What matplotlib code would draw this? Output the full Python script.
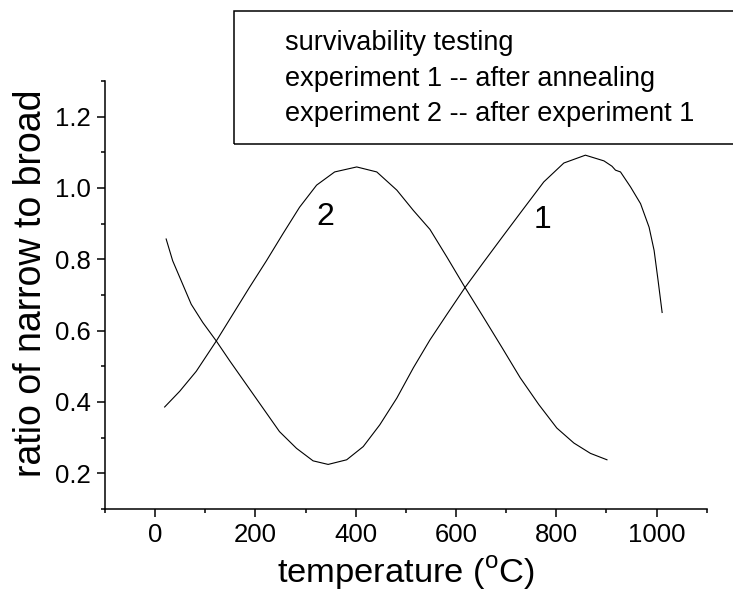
import numpy as np
import matplotlib
matplotlib.use("Agg")
import matplotlib.pyplot as plt
from matplotlib.patches import Rectangle
from matplotlib.ticker import MultipleLocator, FormatStrFormatter

plt.rcParams['font.family'] = ['Liberation Sans', 'DejaVu Sans']
plt.rcParams['mathtext.fontset'] = 'custom'
plt.rcParams['mathtext.rm'] = 'Liberation Sans'

# experiment 1 -- after annealing
t1 = [22, 35, 52, 72, 95, 122, 149, 182, 215, 248, 282, 315, 345, 382, 415,
      448, 482, 515, 548, 582, 618, 655, 692, 732, 775, 815, 858, 895, 911,
      918, 928, 948, 968, 985, 995, 1003, 1011]
r1 = [0.857, 0.796, 0.740, 0.674, 0.623, 0.571, 0.515, 0.449, 0.383, 0.317,
      0.270, 0.235, 0.225, 0.238, 0.275, 0.336, 0.411, 0.496, 0.574, 0.646,
      0.721, 0.792, 0.862, 0.937, 1.017, 1.070, 1.092, 1.076, 1.061, 1.050,
      1.045, 1.003, 0.956, 0.890, 0.825, 0.740, 0.651]

# experiment 2 -- after experiment 1
t2 = [19, 49, 82, 122, 155, 188, 222, 255, 288, 322, 358, 402, 442, 482,
      515, 548, 582, 618, 655, 692, 728, 765, 801, 835, 868, 901]
r2 = [0.386, 0.430, 0.486, 0.571, 0.646, 0.721, 0.796, 0.872, 0.946, 1.008,
      1.045, 1.059, 1.045, 0.994, 0.937, 0.884, 0.806, 0.721, 0.637, 0.552,
      0.468, 0.393, 0.327, 0.285, 0.256, 0.238]

legend_lines = ["survivability testing",
                "experiment 1 -- after annealing",
                "experiment 2 -- after experiment 1"]
curve_tags = [("1", 773, 0.888), ("2", 339, 0.895)]


def main():
    fig = plt.figure(figsize=(7.33, 5.92), dpi=100)
    ax = fig.add_axes([0.1432, 0.1402, 0.8210, 0.7230])

    ax.plot(t1, r1, color="black", lw=0.8)
    ax.plot(t2, r2, color="black", lw=0.8)
    for tag, x, y in curve_tags:
        ax.text(x, y, tag, fontsize=23, ha="center", va="baseline")

    ax.set_xlim(-100, 1100)
    ax.set_ylim(0.1, 1.3)
    ax.set_xticks([0, 200, 400, 600, 800, 1000])
    ax.set_yticks([0.2, 0.4, 0.6, 0.8, 1.0, 1.2])
    ax.xaxis.set_minor_locator(MultipleLocator(100))
    ax.yaxis.set_minor_locator(MultipleLocator(0.1))
    ax.yaxis.set_major_formatter(FormatStrFormatter("%.1f"))

    for s in ("top", "right"):
        ax.spines[s].set_visible(False)
    for s in ("left", "bottom"):
        ax.spines[s].set_linewidth(1.1)
    ax.tick_params(which="major", length=6, width=1.1, labelsize=18.5, pad=4)
    ax.tick_params(which="minor", length=3, width=1.1)

    ax.set_xlabel(r"temperature ($^{\mathregular{o}}$C)", fontsize=24.8, labelpad=5)
    ax.set_ylabel("ratio of narrow to broad", fontsize=27)
    ax.yaxis.label.set(va="baseline", rotation_mode="anchor")
    ax.yaxis.set_label_coords(-0.1064, 0.528)

    # boxed key, open on the right
    W, H = fig.get_size_inches() * fig.dpi
    fig.patches.append(Rectangle((234 / W, 1 - 144 / H), 0.8, (144 - 10.7) / H,
                                 transform=fig.transFigure, fill=False,
                                 ec="black", lw=1.1, clip_on=False))
    for i, line in enumerate(legend_lines):
        fig.text(285 / W, 1 - (43 + 35.5 * i) / H, line, fontsize=19.5,
                 ha="left", va="center")

    fig.savefig("out.png", dpi=100)


if __name__ == "__main__":
    main()
